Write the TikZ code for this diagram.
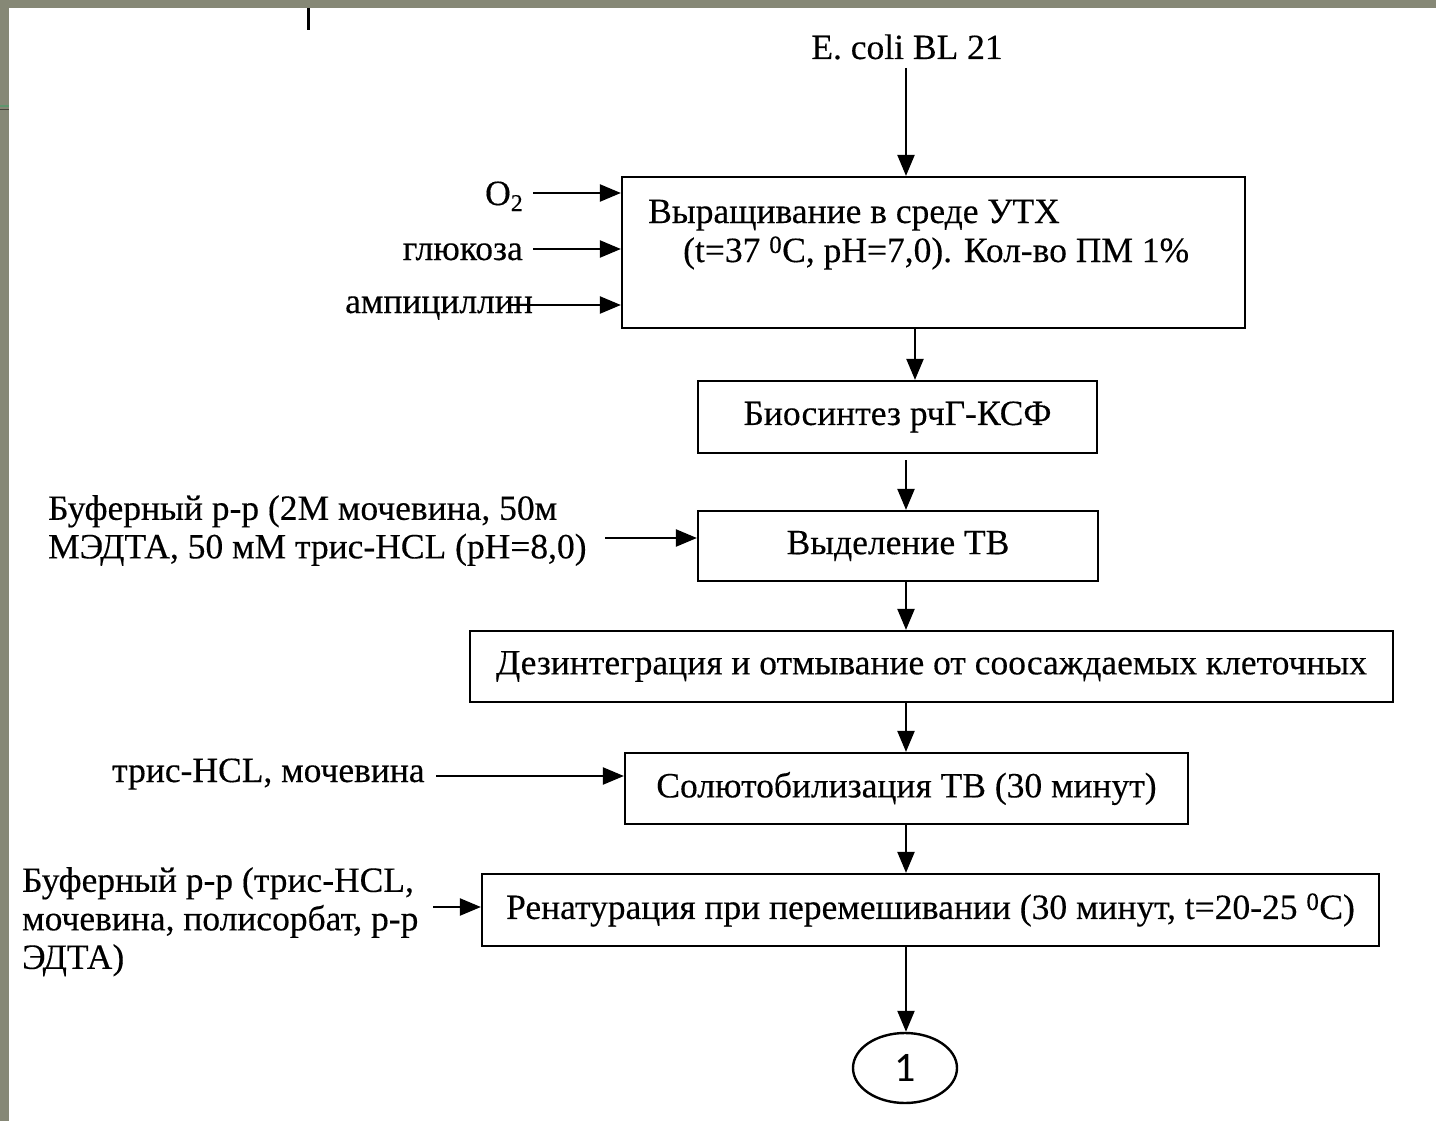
\documentclass[tikz,border=0pt]{standalone}
\usepackage{fontspec}
\setmainfont[FakeBold=0.3]{Liberation Serif}
\newfontfamily\digitfont{Carlito}
\usetikzlibrary{arrows.meta,shapes.geometric}
\definecolor{frame}{RGB}{134,136,118}
\tikzset{
  box/.style={draw=black,line width=2.2pt,rectangle,inner sep=0pt,fill=white},
  txt/.style={inner sep=0pt,font=\fontsize{35.5}{38.5}\selectfont},
  arr/.style={draw=black,line width=2.2pt,-{Triangle[length=21pt,width=17pt]}},
}
\begin{document}
\begin{tikzpicture}[x=1pt,y=-1pt]
\useasboundingbox (0,0) rectangle (1436,1121);
\fill[white] (0,0) rectangle (1436,1121);
\fill[frame] (0,0) rectangle (1436,8);
\fill[frame] (0,0) rectangle (9,1121);
\draw[line width=1.2pt,color={rgb,255:red,95;green,150;blue,110}] (0,106) -- (9,106);
\draw[line width=1.8pt,color={rgb,255:red,70;green,70;blue,60}] (0,109.5) -- (9,109.5);
\draw[line width=3pt] (308,8) -- (308,30);

\coordinate (cx) at (906,0);
\coordinate (cx2) at (915,0);

% top label
\node[txt,anchor=base] (ecoli) at (907,59) {E. coli BL 21};

% boxes
\node[box,minimum width=623pt,minimum height=151pt] (b1) at (933.5,252.5) {};
\node[txt,anchor=base west] (t1a) at (648,223) {Выращивание в среде УТХ};
\node[txt,anchor=base west] (t1b) at (683,262) {(t=37 \textsuperscript{0}C, pH=7,0). Кол-во ПМ 1\%};

\node[box,txt,minimum width=399pt,minimum height=72pt] (b2) at (897.5,417) {Биосинтез рчГ-КСФ};
\node[box,txt,minimum width=400pt,minimum height=70pt] (b3) at (898,546) {Выделение ТВ};
\node[box,txt,minimum width=923pt,minimum height=71pt] (b4) at (931.5,666.5) {Дезинтеграция и отмывание от соосаждаемых клеточных};
\node[box,txt,minimum width=563pt,minimum height=71pt] (b5) at (906.5,788.5) {Солютобилизация ТВ (30 минут)};
\node[box,txt,minimum width=897pt,minimum height=72pt] (b6) at (930.5,910) {Ренатурация при перемешивании (30 минут, t=20-25 \textsuperscript{0}C)};
\node[draw=black,line width=2.4pt,ellipse,minimum width=104pt,minimum height=70pt,inner sep=0pt,font=\digitfont\fontsize{42}{44}\selectfont] (c1) at (905,1068) {1};

% inputs
\node[txt,anchor=base east] (o2) at (523,205) {O{\fontsize{24}{24}\selectfont\raisebox{-6pt}{2}}};
\node[txt,anchor=base east] (glu) at (523,260) {глюкоза};
\node[txt,anchor=base west] (amp) at (345,313) {ампициллин};
\node[txt,anchor=north west,align=left] (buf1) at (48,495) {Буферный р-р (2М мочевина, 50м\\МЭДТА, 50 мМ трис-HCL (pH=8,0)};
\node[txt,anchor=base west] (tris) at (112,782) {трис-HCL, мочевина};
\node[txt,anchor=north west,align=left] (buf2) at (22,867) {Буферный р-р (трис-HCL,\\мочевина, полисорбат, р-р\\ЭДТА)};

\coordinate (a1) at (533,193);
\coordinate (a2) at (533,249);
\coordinate (a3) at (510,305);
\coordinate (a4) at (605,538);
\coordinate (a5) at (436,776);
\coordinate (a6) at (433,907);
\draw[arr] (a1) -- (a1 -| b1.west);
\draw[arr] (a2) -- (a2 -| b1.west);
\draw[arr] (a3) -- (a3 -| b1.west);
\draw[arr] (a4) -- (a4 -| b3.west);
\draw[arr] (a5) -- (a5 -| b5.west);
\draw[arr] (a6) -- (a6 -| b6.west);

% main flow
\coordinate (e0) at (906,68);
\draw[arr] (e0) -- (b1.north -| cx);
\draw[arr] (b1.south -| cx2) -- (b2.north -| cx2);
\draw[arr] ([yshift=-6pt]b2.south -| cx) -- (b3.north -| cx);
\draw[arr] (b3.south -| cx) -- (b4.north -| cx);
\draw[arr] (b4.south -| cx) -- (b5.north -| cx);
\draw[arr] (b5.south -| cx) -- (b6.north -| cx);
\draw[arr] (b6.south -| cx) -- (c1.north -| cx);
\end{tikzpicture}
\end{document}
